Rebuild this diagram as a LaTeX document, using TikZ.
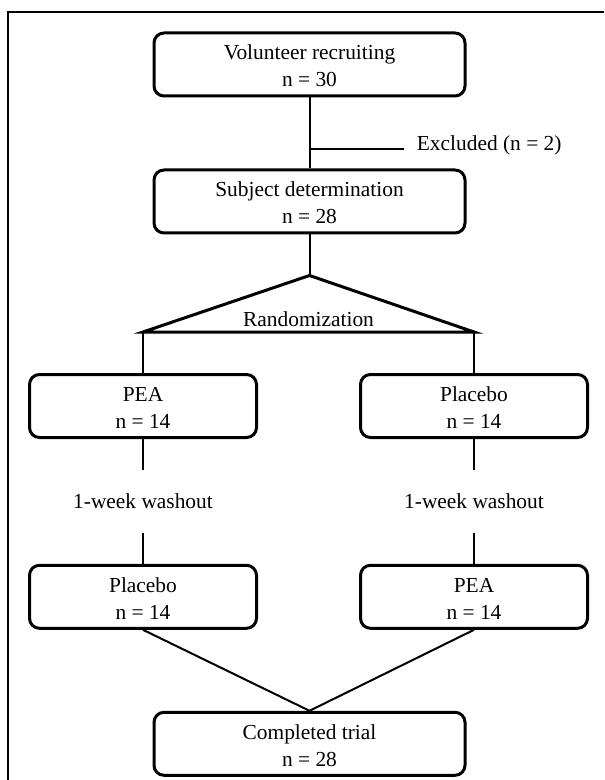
\documentclass[tikz,border=0pt]{standalone}
\usepackage{fontspec}
\setmainfont{Liberation Serif}
\usepackage{tikz}
\usetikzlibrary{positioning,calc}
\tikzset{
  flowbox/.style={draw=black, rounded corners=5pt, line width=1.5pt, fill=white,
    align=center, inner sep=0pt, minimum width=155.5pt, minimum height=31.5pt,
    text height=22.5pt, font=\fontsize{10.7}{13.5}\selectfont},
  armbox/.style={flowbox, minimum width=113.5pt},
  flowline/.style={draw=black, line width=1pt},
  splitline/.style={draw=black, line width=1.5pt, line join=miter},
  frameline/.style={draw=black, line width=1.3pt},
  smallnote/.style={inner sep=0pt, align=center, font=\fontsize{10.7}{13.5}\selectfont}
}

\begin{document}
\begin{tikzpicture}[node distance=15.5pt]
  \useasboundingbox (0,0) rectangle (302pt,-390pt);
  \draw[frameline] (302pt,-6pt) -- (4pt,-6pt) -- (4pt,-390pt);

  % screening
  \node[flowbox] (recruit) at (154.75pt,-32.25pt) {Volunteer recruiting\\n = 30};
  \node[flowbox, below=35.5pt of recruit] (subject) {Subject determination\\n = 28};
  \coordinate (excl) at ($(recruit.south)!0.72!(subject.north)$);
  \coordinate[right=47pt of excl] (exclend);
  \node[smallnote, right=6.5pt of exclend, yshift=1.5pt] (excluded) {Excluded (n = 2)};

  % randomization
  \coordinate[below=20.5pt of subject] (apex);
  \coordinate (lbase) at (71.5pt,-166pt);
  \coordinate (rbase) at (237pt,-166pt);
  \node[smallnote, anchor=base] (rand) at ($(lbase)!0.5!(rbase)+(0,3pt)$) {Randomization};

  % period 1, washout, period 2
  \node[armbox, below=20.5pt of lbase] (peaA) {PEA\\n = 14};
  \node[armbox, below=20.5pt of rbase] (plcA) {Placebo\\n = 14};
  \node[smallnote, minimum height=31pt, below=of peaA] (washL) {1-week washout};
  \node[smallnote, minimum height=31pt, below=of plcA] (washR) {1-week washout};
  \node[armbox, below=of washL] (plcB) {Placebo\\n = 14};
  \node[armbox, below=of washR] (peaB) {PEA\\n = 14};
  \node[flowbox, below=40.5pt] (done) at (recruit |- plcB.south) {Completed trial\\n = 28};

  \draw[flowline] (recruit) -- (subject);
  \draw[flowline] (excl) -- (exclend);
  \draw[flowline] (subject) -- (apex);
  \draw[splitline] (lbase) -- (apex) -- (rbase) -- cycle;
  \draw[flowline] (lbase) -- (peaA);
  \draw[flowline] (rbase) -- (plcA);
  \draw[flowline] (peaA) -- (washL);
  \draw[flowline] (washL) -- (plcB);
  \draw[flowline] (plcA) -- (washR);
  \draw[flowline] (washR) -- (peaB);
  \draw[flowline] (plcB.south) -- (done.north);
  \draw[flowline] (peaB.south) -- (done.north);
\end{tikzpicture}
\end{document}
